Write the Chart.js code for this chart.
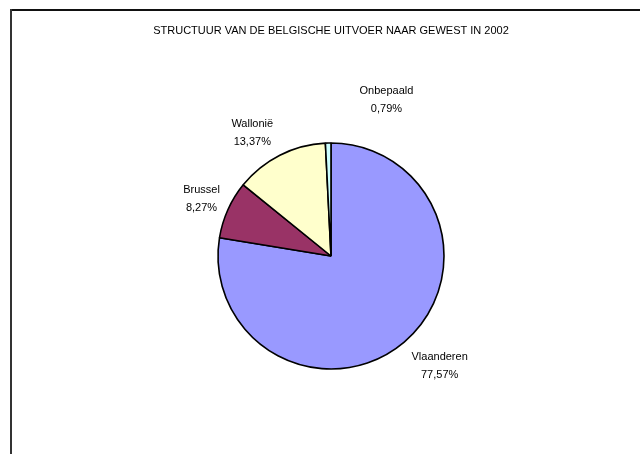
<!DOCTYPE html>
<html>
<head>
<meta charset="utf-8">
<script src="https://cdn.jsdelivr.net/npm/chart.js@4.4.1/dist/chart.umd.min.js"></script>
<style>
    body { margin: 0; background: #fff; }
    #wrap { position: relative; width: 640px; height: 454px; }
</style>
</head>
<body>
<div id="wrap"><canvas id="myChart" width="640" height="454"></canvas></div>
<script>
const regions = ["Vlaanderen", "Brussel", "Wallonië", "Onbepaald"]
const shares = [77.57, 8.27, 13.37, 0.79]
const shareLabels = ["77,57%", "8,27%", "13,37%", "0,79%"]
const colors = ["#9999FF", "#993366", "#FFFFCC", "#CCFFFF"]
const chartTitle = "STRUCTUUR VAN DE BELGISCHE UITVOER NAAR GEWEST IN 2002"

// frame, title and data labels like the old excel chart
const excelLook = {
    id: "excelLook",
    beforeDraw(chart) {
        const ctx = chart.ctx
        ctx.save()
        ctx.fillStyle = "#111"
        ctx.fillRect(10, 9, 630, 2)
        ctx.fillStyle = "#333"
        ctx.fillRect(10, 9, 2, 445)
        ctx.restore()
    },
    afterDraw(chart, args, opts) {
        const ctx = chart.ctx
        ctx.save()
        ctx.fillStyle = "#000"
        ctx.textAlign = "center"
        ctx.textBaseline = "middle"
        ctx.font = "11px 'Liberation Sans', Arial, sans-serif"
        ctx.fillText(chartTitle, 331, 31)

        ctx.font = "11px 'Liberation Sans', Arial, sans-serif"
        const meta = chart.getDatasetMeta(0)
        meta.data.forEach((arc, i) => {
            const p = arc.getProps(["x", "y", "startAngle", "endAngle", "outerRadius"], true)
            const mid = (p.startAngle + p.endAngle) / 2
            const d = p.outerRadius + 30
            const nudge = opts.nudge[i]
            const x = p.x + Math.cos(mid) * d + nudge[0]
            const y = p.y + Math.sin(mid) * d + nudge[1]
            ctx.fillText(regions[i], x, y - 9)
            ctx.fillText(shareLabels[i], x, y + 9)
        })
        ctx.restore()
    }
}

new Chart("myChart", {
    type: "pie",
    data: {
        labels: regions,
        datasets: [{
            data: shares,
            backgroundColor: colors,
            borderColor: "#000",
            borderWidth: 1.6,
            radius: 113
        }]
    },
    options: {
        responsive: false,
        animation: false,
        layout: { padding: { left: 30, right: 8, top: 70, bottom: 12 } },
        plugins: {
            legend: { display: false },
            tooltip: { enabled: false },
            excelLook: { nudge: [[16, 1], [1, 1], [-14, 4], [59, -13]] }
        }
    },
    plugins: [excelLook]
});
</script>
</body>
</html>
